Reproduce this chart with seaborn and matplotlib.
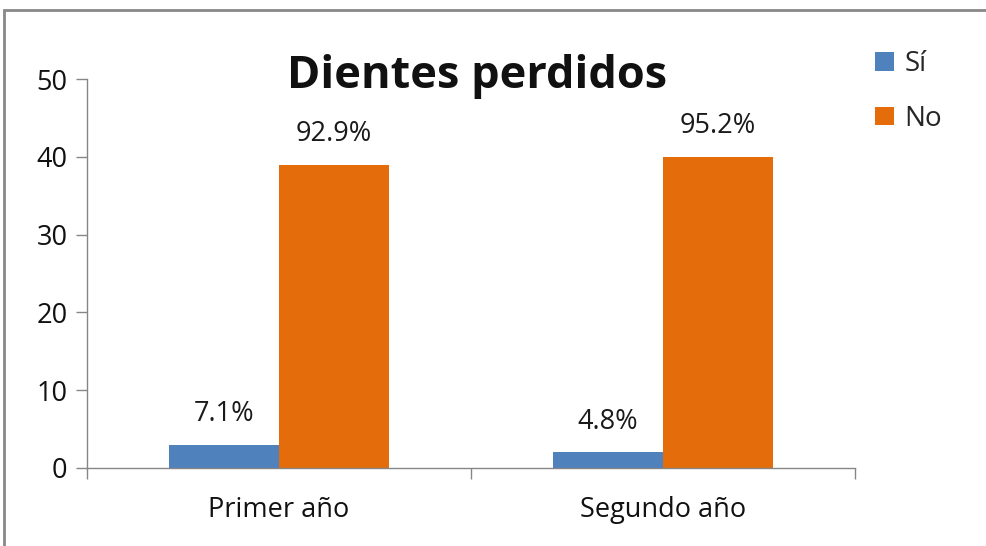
import matplotlib
matplotlib.use("Agg")
import matplotlib.pyplot as plt
import seaborn as sns
import pandas as pd
from matplotlib.patches import Rectangle, Patch

categories = ["Primer año", "Segundo año"]
series = ["Sí", "No"]
si_values = [3, 2]
no_values = [39, 40]
si_labels = ["7.1%", "4.8%"]
no_labels = ["92.9%", "95.2%"]
yticks = [0, 10, 20, 30, 40, 50]
title = "Dientes perdidos"
colors = ["#4F81BD", "#E46C0A"]

df = pd.DataFrame({
    "cat": categories * 2,
    "serie": [series[0]] * 2 + [series[1]] * 2,
    "val": si_values + no_values,
})

sns.set_theme(style="white")
plt.rcParams["font.family"] = ["Open Sans", "DejaVu Sans"]

fig = plt.figure(figsize=(9.87, 5.46), dpi=100)
ax = fig.add_axes([87/987, 1-468/546, (855-87)/987, (468-79)/546])

sns.barplot(data=df, x="cat", y="val", hue="serie", order=categories,
            hue_order=series, palette=colors, width=0.575, gap=0,
            saturation=1, ax=ax, legend=False, linewidth=0)

for cont, labs in zip(ax.containers, [si_labels, no_labels]):
    ax.bar_label(cont, labels=labs, padding=12, fontsize=19.5, color="#1a1a1a")

ax.set_xlim(-0.5, 1.5)
ax.set_ylim(0, 50)
ax.set_yticks(yticks)
ax.set_xlabel("")
ax.set_ylabel("")
for s in ["top", "right"]:
    ax.spines[s].set_visible(False)
for s in ["left", "bottom"]:
    ax.spines[s].set_color("#868686")
    ax.spines[s].set_linewidth(1.0)
ax.tick_params(axis="y", length=8, width=1, color="#868686", labelsize=19.5,
               pad=6, labelcolor="#111111", left=True)
ax.set_xticks([-0.5, 0.5, 1.5], minor=True)
ax.tick_params(axis="x", which="major", length=0, labelsize=19.5, pad=20,
               labelcolor="#111111")
ax.tick_params(axis="x", which="minor", length=8, width=1, color="#868686",
               bottom=True)

fig.text(477/987, 1-77/546, title, ha="center", va="center",
         fontsize=32.5, fontweight="bold", color="#111111")

handles = [Patch(facecolor=c, edgecolor="none") for c in colors]
fig.legend(handles, series, loc="upper left", bbox_to_anchor=(856/987, 1-31/546),
           frameon=False, fontsize=20, handlelength=0.65, handleheight=0.65,
           handletextpad=0.4, labelspacing=0.95, borderpad=0.2)

fig.patches.append(Rectangle((4/987, -0.05), 1.1, 1-10/546+0.05,
                             transform=fig.transFigure, fill=False,
                             edgecolor="#888888", linewidth=2))

fig.savefig("out.png", dpi=100)
